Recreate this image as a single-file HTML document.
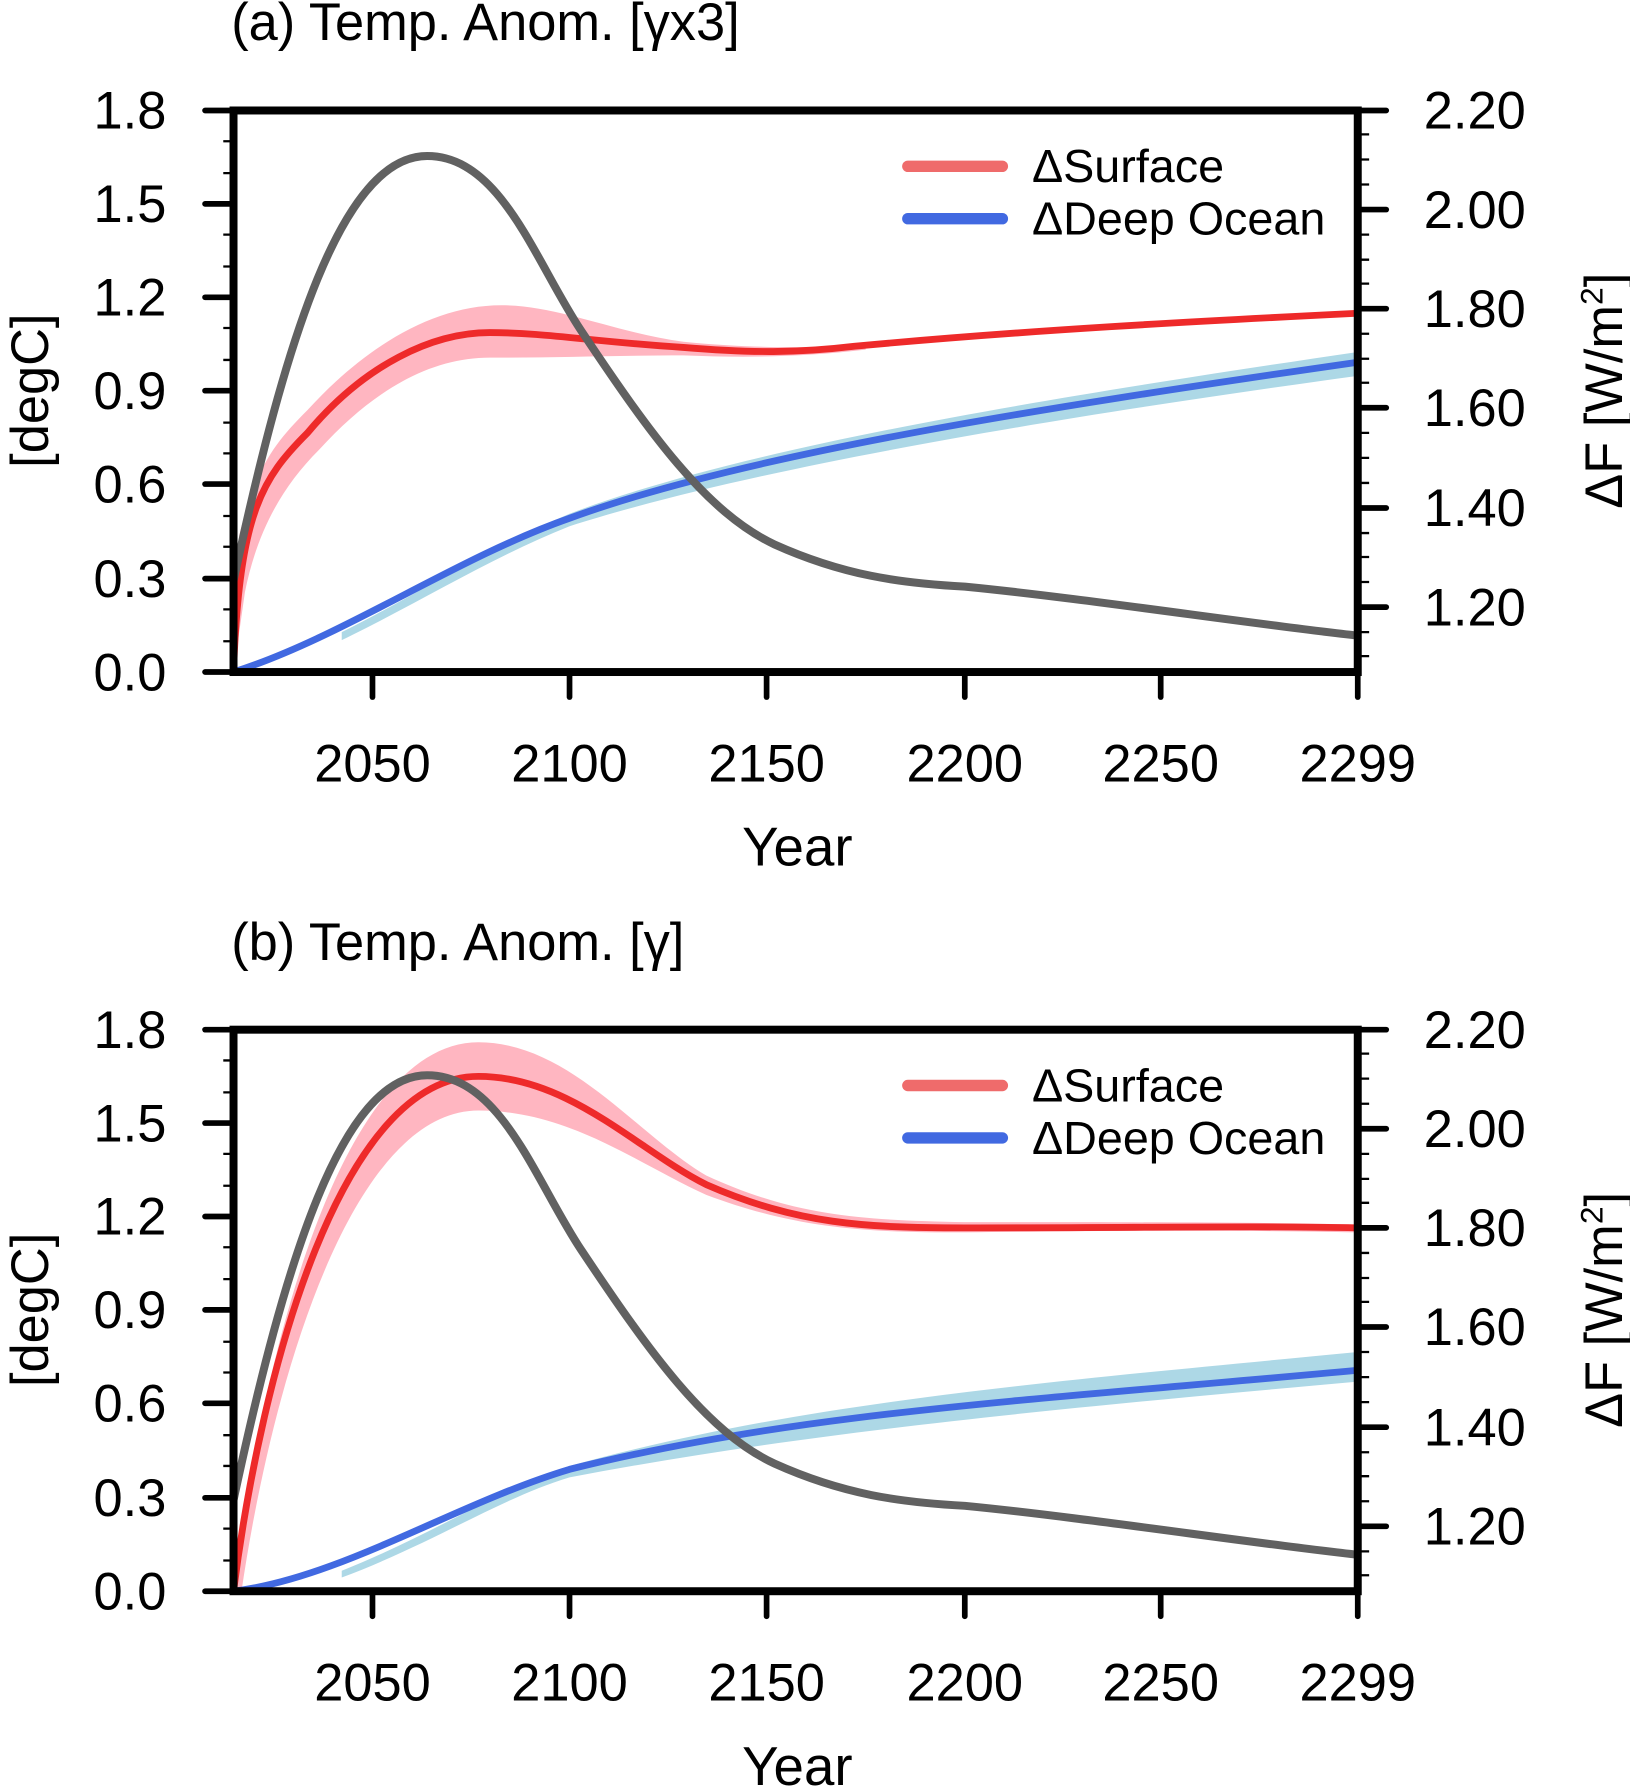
<!DOCTYPE html>
<html><head><meta charset="utf-8"><style>html,body{margin:0;padding:0;background:#fff}</style></head>
<body>
<svg width="1630" height="1786" viewBox="0 0 1431 1568" xmlns="http://www.w3.org/2000/svg" font-family="Liberation Sans, sans-serif">
<defs>
<g id="axes">
  <g stroke="#000" stroke-width="5" stroke-linecap="round">
    <line x1="180" y1="590" x2="205" y2="590"/><line x1="180" y1="508" x2="205" y2="508"/>
    <line x1="180" y1="425" x2="205" y2="425"/><line x1="180" y1="343" x2="205" y2="343"/>
    <line x1="180" y1="261" x2="205" y2="261"/><line x1="180" y1="179" x2="205" y2="179"/>
    <line x1="180" y1="97" x2="205" y2="97"/>
    <line x1="1192" y1="97" x2="1217" y2="97"/><line x1="1192" y1="184" x2="1217" y2="184"/>
    <line x1="1192" y1="271" x2="1217" y2="271"/><line x1="1192" y1="358" x2="1217" y2="358"/>
    <line x1="1192" y1="446" x2="1217" y2="446"/><line x1="1192" y1="533" x2="1217" y2="533"/>
    <line x1="327" y1="590" x2="327" y2="612"/><line x1="500" y1="590" x2="500" y2="612"/>
    <line x1="673" y1="590" x2="673" y2="612"/><line x1="847" y1="590" x2="847" y2="612"/>
    <line x1="1019" y1="590" x2="1019" y2="612"/><line x1="1192" y1="590" x2="1192" y2="612"/>
  </g>
  <g stroke="#000" stroke-width="2">
    <path d="M196,563H205M196,535H205M196,480H205M196,453H205M196,398H205M196,371H205M196,316H205M196,288H205M196,234H205M196,206H205M196,152H205M196,124H205"/>
    <path d="M1192,576H1202M1192,555H1202M1192,511H1202M1192,489H1202M1192,468H1202M1192,424H1202M1192,402H1202M1192,380H1202M1192,336H1202M1192,315H1202M1192,293H1202M1192,249H1202M1192,228H1202M1192,206H1202M1192,162H1202M1192,140H1202M1192,118H1202"/>
  </g>
  <rect x="205" y="97" width="987" height="493" fill="none" stroke="#000" stroke-width="7"/>
  <g font-size="46" text-anchor="end">
    <text x="146" y="606">0.0</text><text x="146" y="524">0.3</text><text x="146" y="441">0.6</text>
    <text x="146" y="359">0.9</text><text x="146" y="277">1.2</text><text x="146" y="195">1.5</text><text x="146" y="113">1.8</text>
  </g>
  <g font-size="46">
    <text x="1250" y="113">2.20</text><text x="1250" y="200">2.00</text><text x="1250" y="287">1.80</text>
    <text x="1250" y="374">1.60</text><text x="1250" y="462">1.40</text><text x="1250" y="549">1.20</text>
  </g>
  <g font-size="46" text-anchor="middle">
    <text x="327" y="686">2050</text><text x="500" y="686">2100</text><text x="673" y="686">2150</text>
    <text x="847" y="686">2200</text><text x="1019" y="686">2250</text><text x="1192" y="686">2299</text>
  </g>
  <text x="0" y="0" font-size="46" text-anchor="middle" transform="translate(42,343) rotate(-90)">[degC]</text>
  <text x="0" y="0" font-size="46" text-anchor="middle" transform="translate(1424,343) rotate(-90)">ΔF [W/m<tspan font-size="28" dy="-17">2</tspan><tspan dy="17">]</tspan></text>
  <line x1="797" y1="146" x2="880" y2="146" stroke="#ef6b6b" stroke-width="10" stroke-linecap="round"/>
  <line x1="797" y1="192" x2="880" y2="192" stroke="#4169e1" stroke-width="10" stroke-linecap="round"/>
  <text x="906" y="160" font-size="41">ΔSurface</text>
  <text x="906" y="206" font-size="41">ΔDeep Ocean</text>
</g>
<path id="gray" d="M205,510 C250,300 300,137 375,137 C440,137 470,230 510,290 C570,380 620,450 680,478 C740,505 790,512 847,515 C950,525 1100,548 1192,558" fill="none" stroke="#616161" stroke-width="7"/>
</defs>

<text x="203" y="35" font-size="46">(a) Temp. Anom. [γx3]</text>
<path d="M205,590 L210,470 C225,410 240,390 270,360 C320,305 380,268 440,268 C490,268 540,292 600,300 C660,306 720,306 760,302 L760,307 C700,314 650,314 600,312 C540,312 490,314 430,314 C380,314 330,340 280,395 C245,430 225,470 215,520 Z" fill="#ffb6c1"/>
<path d="M300,555 C370,520 430,480 500,451 C650,394 900,352 1192,309 L1192,330 C900,370 650,414 500,462 C430,490 370,528 300,562 Z" fill="#add8e6"/>
<path d="M205,590 C210,450 230,420 270,380 C320,320 380,292 430,292 C480,292 520,300 600,305 C660,310 700,310 750,304 C900,290 1050,282 1192,275" fill="none" stroke="#ee2a2a" stroke-width="6"/>
<path d="M205,590 C300,560 400,490 500,455 C650,400 900,360 1192,318" fill="none" stroke="#4169e1" stroke-width="6"/>
<use href="#gray"/>
<use href="#axes"/>
<text x="700" y="760" font-size="48" text-anchor="middle">Year</text>

<text x="203" y="843" font-size="46">(b) Temp. Anom. [γ]</text>
<g transform="translate(0,807)">
<path d="M205,590 C230,380 300,108 420,108 C500,108 560,190 620,225 C700,262 760,264 847,266 C1000,266 1100,266 1192,268 L1192,275 C1100,273 1000,273 847,275 C760,275 700,272 620,242 C560,215 500,168 420,168 C310,168 240,400 212,590 Z" fill="#ffb6c1"/>
<path d="M300,572 C380,540 440,500 500,480 C700,425 900,408 1192,380 L1192,406 C900,432 700,452 500,490 C440,508 380,548 300,578 Z" fill="#add8e6"/>
<path d="M205,590 C230,393 300,138 420,138 C500,138 560,203 620,233 C700,268 760,271 847,271 C1000,271 1100,269 1192,271" fill="none" stroke="#ee2a2a" stroke-width="6"/>
<path d="M205,590 C300,578 400,513 500,483 C700,433 900,423 1192,396" fill="none" stroke="#4169e1" stroke-width="6"/>
<use href="#gray"/>
<use href="#axes"/>
<text x="700" y="760" font-size="48" text-anchor="middle">Year</text>
</g>
</svg>
</body></html>
